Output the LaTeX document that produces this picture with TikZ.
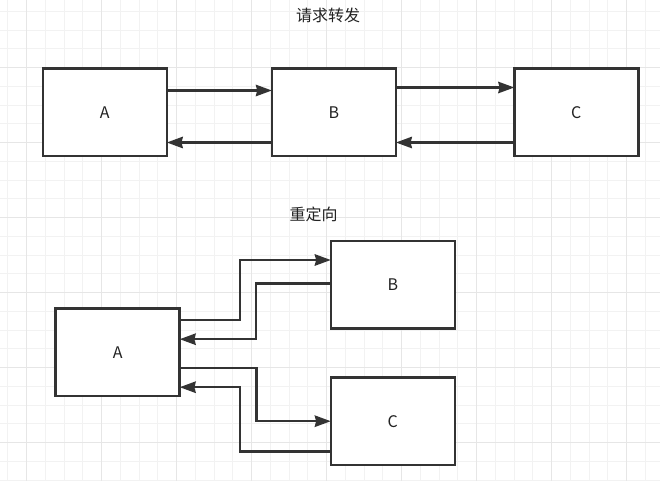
\documentclass[tikz,border=0pt]{standalone}
\usepackage{fontspec}
\setmainfont{Noto Sans CJK SC}
\usetikzlibrary{arrows.meta,calc}
\definecolor{ln}{HTML}{333333}
\definecolor{gminor}{HTML}{F2F2F2}
\definecolor{gmajor}{HTML}{E6E6E6}
\definecolor{txt}{HTML}{222222}
\tikzset{
  box/.style={draw=ln, line width=1.9pt, fill=white, minimum width=93pt, minimum height=65.6pt, inner sep=0pt, outer sep=0pt, font=\fontsize{12pt}{14pt}\selectfont, text=txt},
  arr/.style={draw=ln, line width=1.9pt, -{Stealth[length=12pt,width=8.5pt,inset=1pt]}},
  title/.style={font=\fontsize{12pt}{14pt}\selectfont, text=txt, inner sep=0pt},
  minorline/.style={draw=gminor, line width=0.75pt},
  majorline/.style={draw=gmajor, line width=0.75pt}
}
\begin{document}
\begin{tikzpicture}[x=0.75pt,y=-0.75pt]
\useasboundingbox (0,0) rectangle (660,481);
\fill[white] (0,0) rectangle (660,481);
% grid
\foreach \i in {0,...,35} {
  \pgfmathsetmacro\gx{7.95+18.75*\i}
  \draw[minorline] (\gx,0) -- (\gx,481);
}
\foreach \i in {0,...,25} {
  \pgfmathsetmacro\gy{11.45+18.75*\i}
  \draw[minorline] (0,\gy) -- (660,\gy);
}
\foreach \i in {0,...,8} {
  \pgfmathsetmacro\gx{26.7+75*\i}
  \draw[majorline] (\gx,0) -- (\gx,481);
}
\foreach \i in {1,...,6} {
  \pgfmathsetmacro\gy{-7.3+75*\i}
  \draw[majorline] (0,\gy) -- (660,\gy);
}
% titles
\node[title] (t1) at (328,15) {请求转发};
\node[title] (t2) at (313.5,214) {重定向};
% top boxes
\node[box] (A1) at (104.8,112.5) {A};
\node[box] (B1) at (333.9,112.5) {B};
\node[box] (C1) at (576.3,112.5) {C};
% bottom boxes
\node[box] (A2) at (117.7,352.2) {A};
\node[box] (B2) at (392.8,284.5) {B};
\node[box] (C2) at (392.8,421.2) {C};
% top connectors
\draw[arr] ($(A1.east)+(0,-22)$) -- ($(B1.west)+(0,-22)$);
\draw[arr] ($(B1.west)+(0,30)$) -- ($(A1.east)+(0,30)$);
\draw[arr] ($(B1.east)+(0,-25)$) -- ($(C1.west)+(0,-25)$);
\draw[arr] ($(C1.west)+(0,30)$) -- ($(B1.east)+(0,30)$);
% bottom connectors
\draw[arr] ($(A2.east)+(0,-32)$) -- ++(60.3,0) |- ($(B2.west)+(0,-24.5)$);
\draw[arr] ($(B2.west)+(0,-1)$) -- ++(-75,0) |- ($(A2.east)+(0,-13)$);
\draw[arr] ($(A2.east)+(0,16)$) -- ++(76.7,0) |- (C2.west);
\draw[arr] ($(C2.west)+(0,30.5)$) -- ++(-91,0) |- ($(A2.east)+(0,35)$);
\end{tikzpicture}
\end{document}
